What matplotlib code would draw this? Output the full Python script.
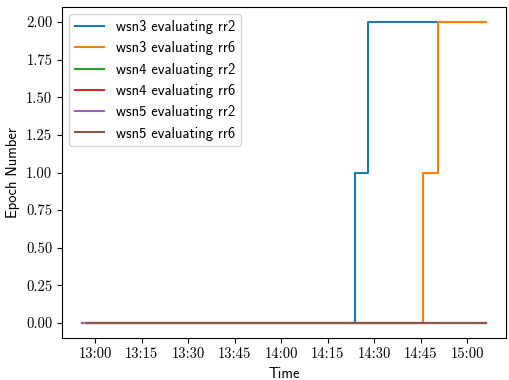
import pandas as pd
import matplotlib
matplotlib.use('Agg')
import matplotlib.pyplot as plt
import matplotlib.dates as mdates

day = '2020-01-01 '

wsn3_rr2_t = ['12:55:50', '14:23:55', '14:28:00', '15:06:00']
wsn3_rr2_v = [0, 1, 2, 2]
wsn3_rr6_t = ['12:57:30', '14:45:45', '14:50:40', '15:06:00']
wsn3_rr6_v = [0, 1, 2, 2]
wsn4_rr2_t = ['12:57:30', '15:06:00']
wsn4_rr2_v = [0, 0]
wsn4_rr6_t = ['12:57:30', '15:06:00']
wsn4_rr6_v = [0, 0]
wsn5_rr2_t = ['12:55:50', '15:06:00']
wsn5_rr2_v = [0, 0]
wsn5_rr6_t = ['12:57:30', '15:06:00']
wsn5_rr6_v = [0, 0]

series = [
    ('wsn3 evaluating rr2', wsn3_rr2_t, wsn3_rr2_v),
    ('wsn3 evaluating rr6', wsn3_rr6_t, wsn3_rr6_v),
    ('wsn4 evaluating rr2', wsn4_rr2_t, wsn4_rr2_v),
    ('wsn4 evaluating rr6', wsn4_rr6_t, wsn4_rr6_v),
    ('wsn5 evaluating rr2', wsn5_rr2_t, wsn5_rr2_v),
    ('wsn5 evaluating rr6', wsn5_rr6_t, wsn5_rr6_v),
]

fig = plt.figure(figsize=(5.1, 3.8), dpi=100)
ax = fig.add_axes([0.1216, 0.1105, 0.8704, 0.8711])

for name, t, v in series:
    times = pd.to_datetime([day + s for s in t])
    ax.plot(times, v, drawstyle='steps-post', label=name, lw=1.5)

ax.xaxis.set_major_locator(mdates.MinuteLocator(byminute=[0, 15, 30, 45]))
ax.xaxis.set_major_formatter(mdates.DateFormatter('%H:%M'))
ax.set_yticks([0, 0.25, 0.5, 0.75, 1.0, 1.25, 1.5, 1.75, 2.0])
ax.set_yticklabels(['%.2f' % y for y in ax.get_yticks()])

for lbl in ax.get_xticklabels() + ax.get_yticklabels():
    lbl.set_fontfamily('cmr10')
    lbl.set_fontsize(10.5)

ax.set_xlabel('Time', family='cmss10', fontsize=10.5)
ax.set_ylabel('Epoch Number', family='cmss10', fontsize=10.5)
ax.legend(loc='upper left', prop={'family': 'cmss10', 'size': 10.5})

fig.savefig('out.png', dpi=100)
